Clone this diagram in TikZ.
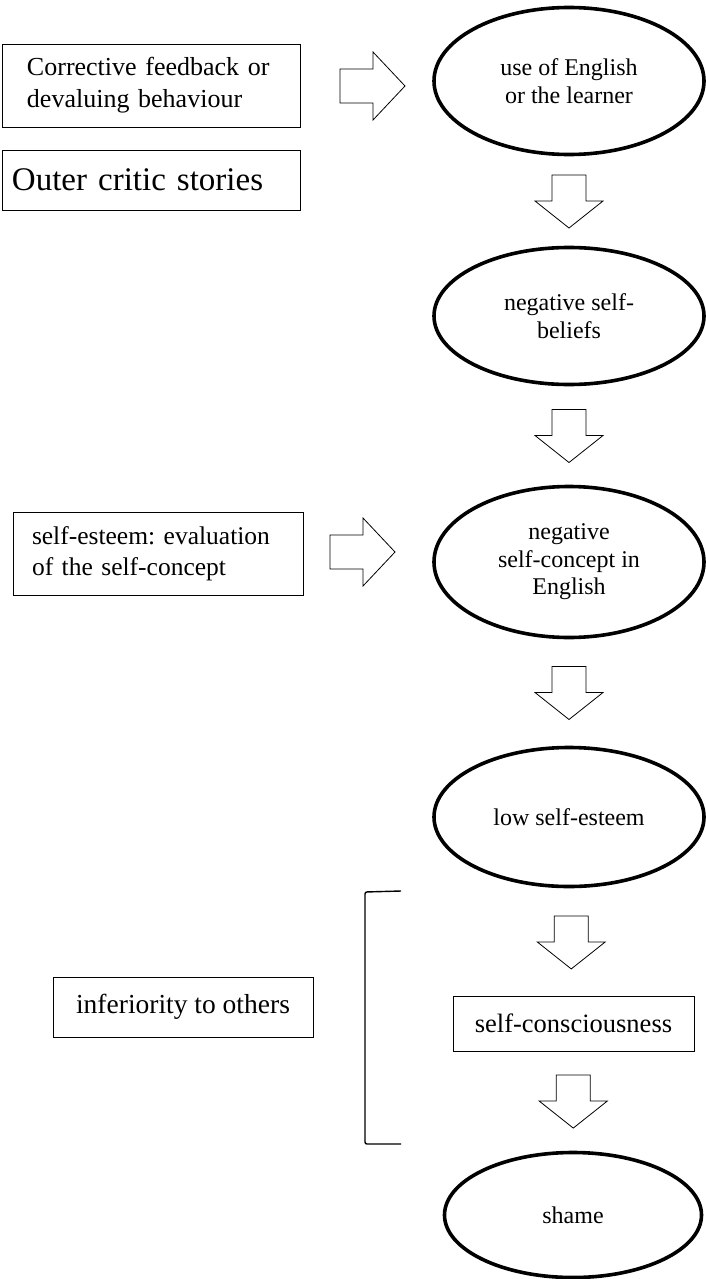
\documentclass[tikz,border=0pt]{standalone}
\usepackage{fontspec}
\setmainfont{Liberation Serif}
\usetikzlibrary{shapes.geometric,calc}
\frenchspacing
\begin{document}
\begin{tikzpicture}[x=1pt,y=-1pt,
  box/.style={draw, line width=0.9pt, inner ysep=0pt},
  oval/.style={draw, ellipse, line width=3.6pt, inner sep=0pt, align=center,
    minimum width=270, font=\fontsize{24}{27.5}\selectfont},
  darr/.pic={\draw[line width=0.8pt] (-17,-26) -- (17,-26) -- (17,0) -- (34,0)
    -- (0,27) -- (-34,0) -- (-17,0) -- cycle;},
  rarr/.pic={\draw[line width=0.8pt] (0,-17) -- (33,-17) -- (33,-34) -- (65,0)
    -- (33,34) -- (33,17) -- (0,17) -- cycle;}]
\useasboundingbox (0,0) rectangle (706,1279);

% ovals
\node[oval, minimum height=147] (e1) at (569,81) {use of English\\or the learner};
\node[oval, minimum height=137] (e2) at (569,316) {negative self-\\beliefs};
\node[oval, minimum height=151] (e3) at (569,562) {negative\\self-concept in\\English};
\node[oval, minimum height=139] (e4) at (569,817) {low self-esteem};
\node[oval, minimum width=257, minimum height=125] (e5) at (573,1215) {shame};

% boxes
\node[box, text width=248, inner xsep=25, minimum height=83, align=left,
  font=\fontsize{26}{32}\selectfont] (b1) at (151,85.5)
  {Corrective feedback or\\devaluing behaviour};
\node[box, text width=278, inner xsep=10, minimum height=60, align=left,
  font=\fontsize{33}{38}\selectfont] (b2) at (151,180) {Outer critic stories};
\node[box, text width=252, inner xsep=19, minimum height=83, align=left,
  font=\fontsize{25.5}{31}\selectfont] (b3) at (158,553.5)
  {self-esteem: evaluation\\of the self-concept};
\node[box, minimum width=260, minimum height=60,
  font=\fontsize{27.5}{32}\selectfont] (b4) at (183,1007) {inferiority to others};
\node[box, minimum width=241, minimum height=55,
  font=\fontsize{26.5}{31}\selectfont] (b5) at (573.5,1023.5) {self-consciousness};

% block arrows
\pic at ($(e1.south)!0.5!(e2.north)$) {darr};
\pic at ($(e2.south)!0.5!(e3.north)$) {darr};
\pic at ($(e3.south)!0.5!(e4.north)$) {darr};
\pic at ($(e4.south)!0.5!(b5.north)$) {darr};
\pic at ($(b5.south)!0.5!(e5.north)$) {darr};
\pic at (340,86) {rarr};
\pic at (330,552) {rarr};

% bracket
\coordinate (bt) at (401,891);
\coordinate (bb) at (401,1144);
\draw[line width=1.4pt, rounded corners=2] (bt) -- (365,892) -- (365,1144) -- (bb);
\end{tikzpicture}
\end{document}
